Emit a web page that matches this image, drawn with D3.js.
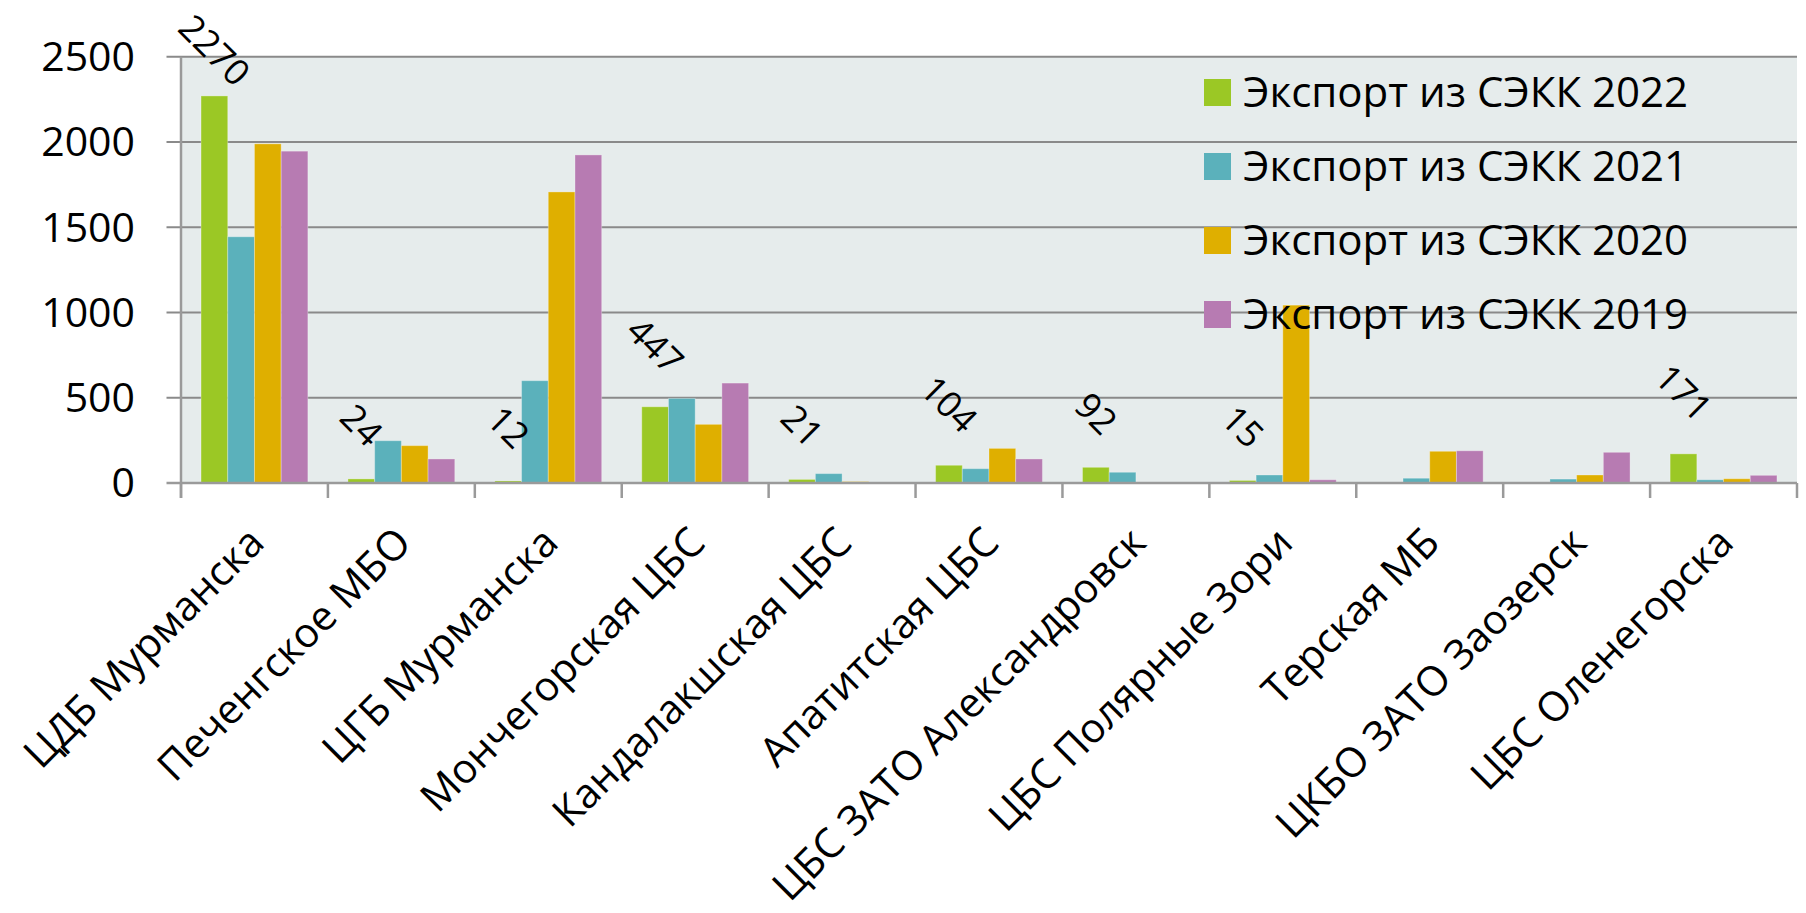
<!DOCTYPE html>
<html>
<head>
<meta charset="utf-8">
<script src="https://cdn.jsdelivr.net/npm/d3@7"></script>
<style>
    body { margin: 0; background: #ffffff; }
    text { font-family: "Open Sans", "Noto Sans", sans-serif; fill: #000000; }
</style>
</head>
<body>
<script>
var categories = ["ЦДБ Мурманска", "Печенгское МБО", "ЦГБ Мурманска", "Мончегорская ЦБС",
    "Кандалакшская ЦБС", "Апатитская ЦБС", "ЦБС ЗАТО Александровск", "ЦБС Полярные Зори",
    "Терская МБ", "ЦКБО ЗАТО Заозерск", "ЦБС Оленегорска"];
var seriesNames = ["Экспорт из СЭКК 2022", "Экспорт из СЭКК 2021", "Экспорт из СЭКК 2020", "Экспорт из СЭКК 2019"];
var values2022 = [2270, 24, 12, 447, 21, 104, 92, 15, 0, 0, 171];
var values2021 = [1444, 248, 600, 496, 55, 84, 63, 47, 28, 23, 19];
var values2020 = [1989, 219, 1707, 344, 8, 203, 0, 1043, 186, 47, 25];
var values2019 = [1946, 141, 1924, 586, 0, 141, 0, 19, 189, 180, 45];
var yTicks = [0, 500, 1000, 1500, 2000, 2500];
var colors = ["#9bc825", "#5bb1bb", "#dfaf00", "#b77bb2"];

var width = 1806,
    height = 913,
    plotLeft = 181,
    plotRight = 1797,
    plotTop = 56.7,
    plotBottom = 483;

var seriesValues = [values2022, values2021, values2020, values2019];

var svg = d3.select("body")
    .append("svg")
    .attr("width", width)
    .attr("height", height);

var x = d3.scaleBand()
    .domain(categories)
    .range([plotLeft, plotRight])
    .padding(0);

var xInner = d3.scaleBand()
    .domain(d3.range(seriesNames.length))
    .range([0, x.bandwidth()])
    .paddingInner(0)
    .paddingOuter(0.75);

var y = d3.scaleLinear()
    .domain([0, 2500])
    .range([plotBottom, plotTop]);

//plot background
svg.append("rect")
    .attr("x", plotLeft)
    .attr("y", plotTop)
    .attr("width", plotRight - plotLeft)
    .attr("height", plotBottom - plotTop)
    .style("fill", "#e6ecec");

//horizontal gridlines, they run out left of the axis as ticks
svg.append("g")
    .selectAll("line")
    .data(yTicks.slice(1))
    .enter()
    .append("line")
    .attr("x1", plotLeft - 14.5)
    .attr("x2", plotRight)
    .attr("y1", function (d) { return y(d); })
    .attr("y2", function (d) { return y(d); })
    .style("stroke", "#8a8a8a")
    .style("stroke-width", "2px");

//y tick labels
svg.append("g")
    .selectAll("text")
    .data(yTicks)
    .enter()
    .append("text")
    .attr("x", 135)
    .attr("y", function (d) { return y(d); })
    .attr("dy", "0.35em")
    .attr("text-anchor", "end")
    .style("font-size", "41px")
    .text(function (d) { return d; });

//bars, one group per category
var groups = svg.append("g")
    .selectAll("g")
    .data(categories)
    .enter()
    .append("g")
    .attr("transform", function (d) { return "translate(" + x(d) + ",0)"; });

groups.selectAll("rect")
    .data(function (d, i) {
        return seriesValues.map(function (vals, s) { return { s: s, v: vals[i] }; });
    })
    .enter()
    .filter(function (d) { return d.v > 0; })
    .append("rect")
    .attr("x", function (d) { return xInner(d.s); })
    .attr("width", xInner.bandwidth())
    .attr("y", function (d) { return y(d.v); })
    .attr("height", function (d) { return y(0) - y(d.v); })
    .style("fill", function (d) { return colors[d.s]; })
    .style("stroke", "rgba(255,255,255,0.3)")
    .style("stroke-width", "1px");

//axes lines
svg.append("line")
    .attr("x1", plotLeft - 14.5)
    .attr("x2", plotRight)
    .attr("y1", plotBottom)
    .attr("y2", plotBottom)
    .style("stroke", "#9a9a9a")
    .style("stroke-width", "2.5px");

svg.append("line")
    .attr("x1", plotLeft)
    .attr("x2", plotLeft)
    .attr("y1", plotTop)
    .attr("y2", plotBottom + 15)
    .style("stroke", "#9a9a9a")
    .style("stroke-width", "2.5px");

//category tick marks on band borders
svg.append("g")
    .selectAll("line")
    .data(d3.range(categories.length + 1))
    .enter()
    .append("line")
    .attr("x1", function (i) { return plotLeft + i * x.step(); })
    .attr("x2", function (i) { return plotLeft + i * x.step(); })
    .attr("y1", plotBottom)
    .attr("y2", plotBottom + 15)
    .style("stroke", "#9a9a9a")
    .style("stroke-width", "2.5px");

//rotated category labels
svg.append("g")
    .selectAll("text")
    .data(categories)
    .enter()
    .append("text")
    .attr("transform", function (d) {
        return "translate(" + (x(d) + x.bandwidth() / 2 + 12) + "," + (plotBottom + 62) + ") rotate(-45)";
    })
    .attr("text-anchor", "end")
    .style("font-size", "41px")
    .text(function (d) { return d; });

//data labels of the 2022 series
var labelSize = 36;
svg.append("g")
    .selectAll("text")
    .data(values2022.map(function (v, i) { return { v: v, c: categories[i] }; })
        .filter(function (d) { return d.v > 0; }))
    .enter()
    .append("text")
    .attr("transform", function (d) {
        var w = String(d.v).length * 0.572 * labelSize;
        var boxH = (w + 0.714 * labelSize) * Math.SQRT1_2;
        var cy = Math.max(y(d.v) - 30 - boxH / 2, boxH / 2 + 12);
        var cx = x(d.c) + xInner(0) + xInner.bandwidth() / 2;
        return "translate(" + cx + "," + cy + ") rotate(45)";
    })
    .attr("text-anchor", "middle")
    .attr("dy", "0.35em")
    .style("font-size", labelSize + "px")
    .text(function (d) { return d.v; });

//legend drawn on top of the plot
var legend = svg.append("g")
    .selectAll("g")
    .data(seriesNames)
    .enter()
    .append("g")
    .attr("transform", function (d, i) { return "translate(1204," + (79 + i * 74) + ")"; });

legend.append("rect")
    .attr("width", 27)
    .attr("height", 27)
    .style("fill", function (d, i) { return colors[i]; });

legend.append("text")
    .attr("x", 39)
    .attr("y", 27.5)
    .style("font-size", "42px")
    .text(function (d) { return d; });
</script>
</body>
</html>
